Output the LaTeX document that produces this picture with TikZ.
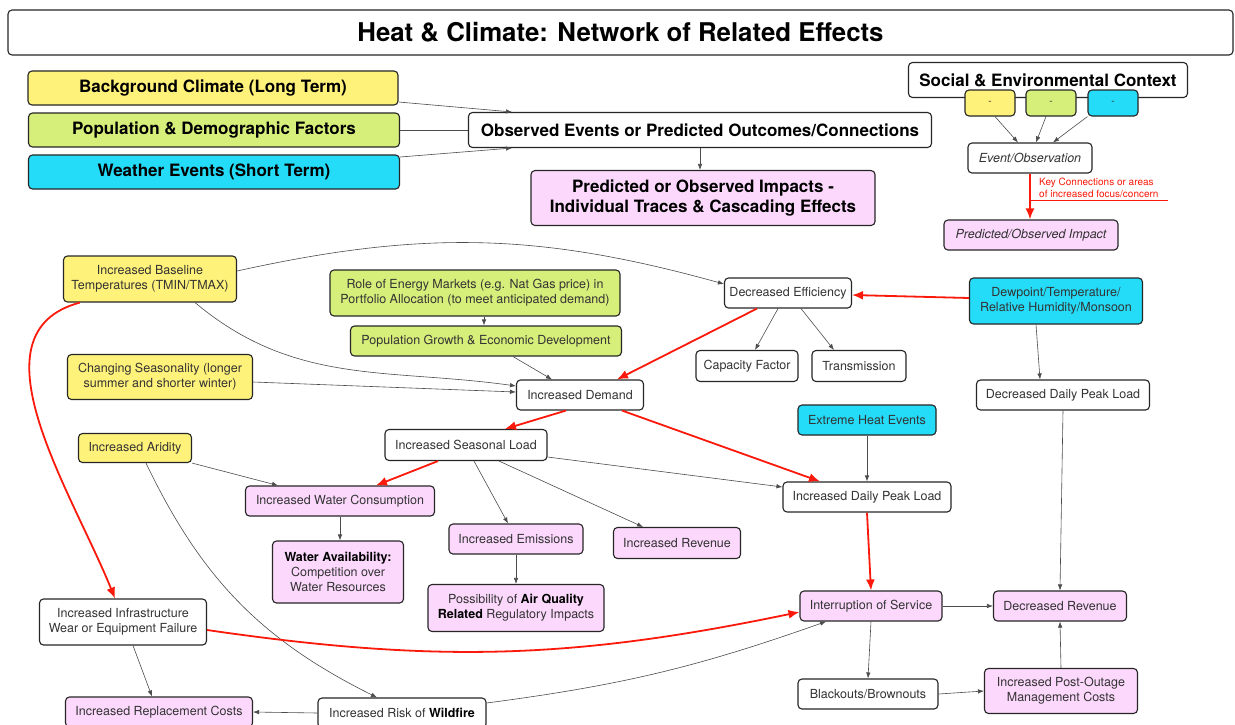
\documentclass[tikz,border=0pt]{standalone}
\usepackage{fontspec}
\setmainfont{TeX Gyre Heros}
\usetikzlibrary{arrows.meta}
\definecolor{climyellow}{RGB}{255,242,122}
\definecolor{climgreen}{RGB}{214,238,122}
\definecolor{climcyan}{RGB}{36,219,248}
\definecolor{climpink}{RGB}{252,217,252}
\definecolor{keyred}{RGB}{250,25,10}

\begin{document}
\begin{tikzpicture}[x=1pt,y=-1pt,
    box/.style={draw=black!85, line width=1.1pt, rounded corners=4pt, align=center,
        text=black!80, font=\fontsize{12.5}{15}\selectfont, inner sep=2pt},
    keybox/.style={box, text=black, font=\fontsize{17}{20}\selectfont\bfseries},
    link/.style={draw=black!70, line width=0.6pt, -{Latex[length=6pt,width=4.5pt]}},
    redlink/.style={draw=keyred, line width=1.8pt, -{Latex[length=11pt,width=9pt]}}]

\fill[white] (0,0) rectangle (1235,724);
\useasboundingbox (0,0) rectangle (1235,724);

\path (620.5,32.5) node[box, text=black, minimum width=1225pt, minimum height=45pt,
    font=\fontsize{25.8}{30}\selectfont\bfseries] (title) {Heat \& Climate: Network of Related Effects};

\path (213,88) node[keybox, fill=climyellow, minimum width=370pt, minimum height=34pt] (bgclim) {Background Climate (Long Term)};
\path (214,130) node[keybox, fill=climgreen, minimum width=371pt, minimum height=34pt] (popdem) {Population \& Demographic Factors};
\path (214,172) node[keybox, fill=climcyan, minimum width=371pt, minimum height=34pt] (weather) {Weather Events (Short Term)};
\path (700,130) node[keybox, fill=white, minimum width=463pt, minimum height=35pt] (observed) {Observed Events or Predicted Outcomes/Connections};
\path (703,198) node[keybox, fill=climpink, minimum width=344pt, minimum height=55pt] (impacts) {Predicted or Observed Impacts -\\Individual Traces \& Cascading Effects};

\draw [link] ([yshift=-14pt]bgclim.east) -- ([xshift=44pt]observed.north west);
\draw [draw=black!70, line width=0.6pt] (popdem.east) -- (observed.west);
\draw [link] ([yshift=15pt]weather.east) -- ([xshift=44pt]observed.south west);
\draw [link] (observed.south) -- (observed.south |- impacts.north);

\path (1048,80) node[keybox, fill=white, minimum width=279pt, minimum height=35pt] (ctx) {Social \& Environmental Context};
\foreach \x/\c/\n in {990/climyellow/ky, 1051/climgreen/kg, 1113/climcyan/kc}
{
    \path (\x,103) node[box, fill=\c, minimum width=50pt, minimum height=26pt, font=\fontsize{10}{12}\selectfont] (\n) {-};
}
\path (1030,158) node[box, fill=white, minimum width=124pt, minimum height=30pt, font=\fontsize{12.5}{15}\selectfont\itshape] (evobs) {Event/Observation};
\path (1031,235) node[box, fill=climpink, minimum width=174pt, minimum height=30pt, font=\fontsize{12.5}{15}\selectfont\itshape] (predimp) {Predicted/Observed Impact};

\draw [link] ([xshift=5pt]ky.south) -- ([xshift=-12pt]evobs.north);
\draw [link] ([xshift=-5pt]kg.south) -- ([xshift=6pt]evobs.north);
\draw [link] (kc.south west) -- ([xshift=23pt]evobs.north);
\draw [redlink] (evobs.south) -- (evobs.south |- predimp.north);
\coordinate (keyend) at (1168,200);
\draw [draw=keyred, line width=1pt] (evobs.south |- keyend) -- (keyend);
\path (1039,188) node[anchor=west, align=left, text=keyred, inner sep=0pt,
    font=\fontsize{10}{11.5}\selectfont] (keytxt) {Key Connections or areas\\of increased focus/concern};

\path (150,279) node[box, fill=climyellow, minimum width=173pt, minimum height=46pt] (bt) {Increased Baseline\\Temperatures (TMIN/TMAX)};
\path (475,293) node[box, fill=climgreen, minimum width=290pt, minimum height=46pt] (rem) {Role of Energy Markets (e.g. Nat Gas price) in\\Portfolio Allocation (to meet anticipated demand)};
\path (486,341) node[box, fill=climgreen, minimum width=271pt, minimum height=30pt] (pgr) {Population Growth \& Economic Development};
\path (160,377) node[box, fill=climyellow, minimum width=185pt, minimum height=45pt] (chs) {Changing Seasonality (longer\\summer and shorter winter)};
\path (580,395) node[box, fill=white, minimum width=127pt, minimum height=30pt] (dem) {Increased Demand};
\path (788,293) node[box, fill=white, minimum width=127pt, minimum height=30pt] (deff) {Decreased Efficiency};
\path (747,366) node[box, fill=white, minimum width=102pt, minimum height=31pt] (cap) {Capacity Factor};
\path (859,366) node[box, fill=white, minimum width=94pt, minimum height=31pt] (trans) {Transmission};
\path (1056,301) node[box, fill=climcyan, minimum width=173pt, minimum height=46pt] (dew) {Dewpoint/Temperature/\\Relative Humidity/Monsoon};
\path (1063,395) node[box, fill=white, minimum width=173pt, minimum height=30pt] (ddpl) {Decreased Daily Peak Load};
\path (867,420) node[box, fill=climcyan, minimum width=138pt, minimum height=30pt] (ehe) {Extreme Heat Events};
\path (466,445) node[box, fill=white, minimum width=162pt, minimum height=31pt] (isl) {Increased Seasonal Load};
\path (135,448) node[box, fill=climyellow, minimum width=113pt, minimum height=29pt] (ari) {Increased Aridity};
\path (340,501) node[box, fill=climpink, minimum width=189pt, minimum height=30pt] (iwc) {Increased Water Consumption};
\path (867,497) node[box, fill=white, minimum width=168pt, minimum height=30pt] (idpl) {Increased Daily Peak Load};
\path (516,539) node[box, fill=climpink, minimum width=134pt, minimum height=30pt] (iem) {Increased Emissions};
\path (677,543) node[box, fill=climpink, minimum width=127pt, minimum height=31pt] (irev) {Increased Revenue};
\path (338,572) node[box, fill=climpink, minimum width=131pt, minimum height=62pt] (wav) {\textbf{\color{black}Water Availability:}\\Competition over\\Water Resources};
\path (516,608) node[box, fill=climpink, minimum width=176pt, minimum height=47pt] (aq) {Possibility of \textbf{\color{black}Air Quality}\\\textbf{\color{black}Related} Regulatory Impacts};
\path (123,622) node[box, fill=white, minimum width=167pt, minimum height=46pt] (iinf) {Increased Infrastructure\\Wear or Equipment Failure};
\path (871,606) node[box, fill=climpink, minimum width=142pt, minimum height=30pt] (ios) {Interruption of Service};
\path (1060,606) node[box, fill=climpink, minimum width=133pt, minimum height=30pt] (drev) {Decreased Revenue};
\path (868,694) node[box, fill=white, minimum width=140pt, minimum height=30pt] (bb) {Blackouts/Brownouts};
\path (1061,691) node[box, fill=climpink, minimum width=153pt, minimum height=45pt] (pom) {Increased Post-Outage\\Management Costs};
\path (159,712) node[box, fill=climpink, minimum width=187pt, minimum height=30pt] (irc) {Increased Replacement Costs};
\path (402,713) node[box, fill=white, minimum width=168pt, minimum height=30pt] (wf) {Increased Risk of \textbf{\color{black}Wildfire}};

\draw [link] ([yshift=8pt]bt.east) to[bend left=14] ([yshift=9pt]deff.west);
\draw [link] ([xshift=45pt]bt.south) to[out=-40,in=172] ([yshift=9pt]dem.west);
\draw [redlink] ([xshift=17pt]bt.south west) to[out=195,in=112] ([xshift=-8pt]iinf.north);
\draw [link] ([yshift=-5pt]chs.east) -- ([yshift=3pt]dem.west);
\draw [link] ([xshift=-2pt]pgr.north |- rem.south) -- ([xshift=-2pt]pgr.north);
\draw [link] ([xshift=27pt]pgr.south) -- ([xshift=-28pt]dem.north);
\draw [redlink] ([xshift=-31pt]deff.south) -- ([xshift=37pt]dem.north);
\draw [link] ([xshift=-10pt]deff.south) -- ([xshift=8pt]cap.north);
\draw [link] ([xshift=13pt]deff.south) -- ([xshift=-25pt]trans.north);
\draw [redlink] ([yshift=3pt]dew.west) -- ([yshift=-2pt]deff.east);
\draw [link] ([xshift=-20pt]dew.south) -- ([xshift=-23pt]ddpl.north);
\draw [link] (ddpl.south) -- (drev.north);

\draw [redlink] ([xshift=-14pt]dem.south) -- ([xshift=39pt]isl.north);
\draw [redlink] ([xshift=42pt]dem.south) -- ([xshift=-47pt]idpl.north);
\draw [link] (ehe.south) -- (idpl.north);
\draw [link] ([yshift=-12pt]isl.east) -- ([yshift=10pt]idpl.west);
\draw [redlink] ([xshift=-28pt]isl.south) -- ([xshift=36pt]iwc.north);
\draw [link] ([xshift=8pt]isl.south) -- ([xshift=-8pt]iem.north);
\draw [link] ([xshift=33pt]isl.south) -- ([xshift=-34pt]irev.north);
\draw [link] (ari.south east) -- ([xshift=-62pt]iwc.north);
\draw [link] ([xshift=11pt]ari.south) to[bend right=19] ([xshift=-25pt]wf.north);
\draw [link] (iwc.south) -- (iwc.south |- wav.north);
\draw [link] (iem.south) -- (aq.north);

\draw [redlink] (idpl.south) -- (ios.north);
\draw [redlink] ([yshift=-8pt]iinf.east) to[bend right=10] ([yshift=-6pt]ios.west);
\draw [link] ([xshift=10pt]iinf.south) -- ([xshift=-7pt]irc.north);
\draw [link] ([yshift=10pt]wf.east) to[bend right=6] ([xshift=-45pt]ios.south);
\draw [link] (wf.west) -- (irc.east);
\draw [link] (ios.east) -- (drev.west);
\draw [link] (ios.south) -- (bb.north);
\draw [link] (bb.east) -- (pom.west);
\draw [link] (pom.north) -- (drev.south);

\end{tikzpicture}
\end{document}
